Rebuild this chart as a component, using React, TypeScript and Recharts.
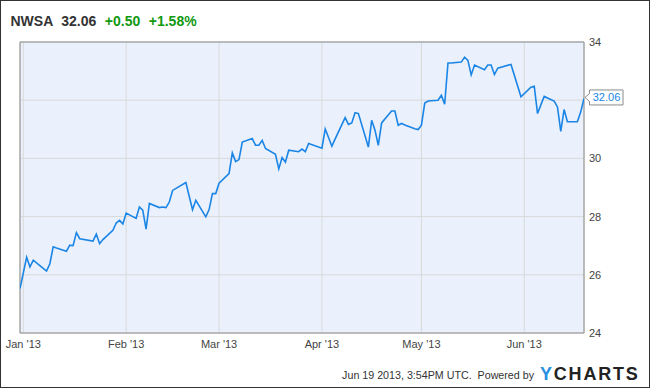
import React from "react";
import {
  LineChart,
  Line,
  XAxis,
  YAxis,
  CartesianGrid,
  ReferenceArea,
  ReferenceDot,
} from "recharts";

const dates: string[] = [
  "2012-12-31", "2013-01-02", "2013-01-03", "2013-01-04", "2013-01-07", "2013-01-08", "2013-01-09", "2013-01-10", "2013-01-11",
  "2013-01-14", "2013-01-15", "2013-01-16", "2013-01-17", "2013-01-18", "2013-01-22", "2013-01-23", "2013-01-24", "2013-01-25",
  "2013-01-28", "2013-01-29", "2013-01-30", "2013-01-31", "2013-02-01", "2013-02-04", "2013-02-05", "2013-02-06", "2013-02-07",
  "2013-02-08", "2013-02-11", "2013-02-12", "2013-02-13", "2013-02-14", "2013-02-15", "2013-02-19", "2013-02-20", "2013-02-21",
  "2013-02-22", "2013-02-25", "2013-02-26", "2013-02-27", "2013-02-28", "2013-03-01", "2013-03-04", "2013-03-05", "2013-03-06",
  "2013-03-07", "2013-03-08", "2013-03-11", "2013-03-12", "2013-03-13", "2013-03-14", "2013-03-15", "2013-03-18", "2013-03-19",
  "2013-03-20", "2013-03-21", "2013-03-22", "2013-03-25", "2013-03-26", "2013-03-27", "2013-03-28", "2013-04-01", "2013-04-02",
  "2013-04-03", "2013-04-04", "2013-04-05", "2013-04-08", "2013-04-09", "2013-04-10", "2013-04-11", "2013-04-12", "2013-04-15",
  "2013-04-16", "2013-04-17", "2013-04-18", "2013-04-19", "2013-04-22", "2013-04-23", "2013-04-24", "2013-04-25", "2013-04-26",
  "2013-04-29", "2013-04-30", "2013-05-01", "2013-05-02", "2013-05-03", "2013-05-06", "2013-05-07", "2013-05-08", "2013-05-09",
  "2013-05-10", "2013-05-13", "2013-05-14", "2013-05-15", "2013-05-16", "2013-05-17", "2013-05-20", "2013-05-21", "2013-05-22",
  "2013-05-23", "2013-05-24", "2013-05-28", "2013-05-29", "2013-05-30", "2013-05-31", "2013-06-03", "2013-06-04", "2013-06-05",
  "2013-06-06", "2013-06-07", "2013-06-10", "2013-06-11", "2013-06-12", "2013-06-13", "2013-06-14", "2013-06-17", "2013-06-18",
  "2013-06-19",
];

const prices: number[] = [
  25.53, 26.6, 26.27, 26.5, 26.22, 26.13, 26.38, 26.96, 26.92,
  26.81, 27.02, 27.0, 27.45, 27.24, 27.16, 27.4, 27.07, 27.21,
  27.53, 27.78, 27.87, 27.75, 28.12, 27.94, 28.33, 28.22, 27.57,
  28.45, 28.31, 28.33, 28.31, 28.5, 28.9, 29.17, 28.7, 28.24,
  28.56, 27.99, 28.24, 28.79, 28.79, 29.15, 29.48, 30.19, 29.89,
  29.96, 30.56, 30.68, 30.45, 30.45, 30.62, 30.34, 30.14, 29.64,
  30.03, 29.87, 30.28, 30.23, 30.32, 30.23, 30.51, 30.35, 31.01,
  30.72, 30.42, 30.67, 31.4, 31.17, 31.22, 31.57, 31.54, 30.39,
  31.31, 30.97, 30.45, 31.22, 31.63, 31.63, 31.14, 31.2, 31.15,
  31.02, 30.99, 31.14, 31.9, 31.97, 32.0, 32.17, 31.86, 33.28,
  33.28, 33.31, 33.48, 33.37, 32.87, 33.21, 33.05, 33.21, 33.21,
  32.88, 33.1, 33.23, 32.86, 32.49, 32.12, 32.45, 32.48, 31.54,
  31.84, 32.13, 31.97, 31.77, 30.93, 31.68, 31.26, 31.26, 31.59,
  32.06,
];

const monthStarts: string[] = ["2013-01-01", "2013-02-01", "2013-03-01", "2013-04-01", "2013-05-01", "2013-06-01"];
const monthLabels: string[] = ["Jan '13", "Feb '13", "Mar '13", "Apr '13", "May '13", "Jun '13"];
const yTicks: number[] = [24, 26, 28, 30, 32, 34];
// the 32 label is covered by the last-value callout in the reference
const yLabelsShown: number[] = [24, 26, 28, 30, 34];

const ticker = "NWSA";
const lastPriceText = "32.06";
const changeText = "+0.50";
const changePctText = "+1.58%";
const footerText = "Jun 19 2013, 3:54PM UTC.  Powered by";

const ORIGIN = Date.UTC(2013, 0, 1);
const toDay = (s: string) => {
  const [y, m, d] = s.split("-").map(Number);
  return Math.round((Date.UTC(y, m - 1, d) - ORIGIN) / 86400000);
};

const data = dates.map((d, i) => ({ day: toDay(d), price: prices[i] }));
const monthTicks = monthStarts.map(toDay);
const firstDay = data[0].day;
const lastDay = data[data.length - 1].day;
const lastPrice = prices[prices.length - 1];

const FONT = "'Liberation Sans', Arial, Helvetica, sans-serif";

const YTick = (props: any) => {
  const { x, y, payload } = props;
  if (!yLabelsShown.includes(payload.value)) return null;
  return (
    <text x={x} y={y} dy="0.355em" textAnchor="start" fontFamily={FONT} fontSize={11} fill="#444444">
      {payload.value}
    </text>
  );
};

const Callout = (props: any) => {
  const { cx, cy } = props;
  if (cx == null || cy == null) return null;
  const x = cx + 1;
  const y = cy - 1;
  const path = `M${x},${y} L${x + 4.5},${y - 4} L${x + 4.5},${y - 7.5} L${x + 38},${y - 7.5} L${x + 38},${y + 7.5} L${x + 4.5},${y + 7.5} L${x + 4.5},${y + 4} Z`;
  return (
    <g>
      <path d={path} fill="#ffffff" stroke="#8a8a8a" strokeWidth={1} />
      <text
        x={x + 21.5}
        y={y + 4}
        textAnchor="middle"
        fontFamily={FONT}
        fontSize={11}
        fill="#1a85e6"
      >
        {lastPriceText}
      </text>
    </g>
  );
};

export default function App() {
  return (
    <div style={{ position: "absolute", left: 0, top: 0, width: 650, height: 388, background: "#ffffff" }}>
      <LineChart
        width={650}
        height={388}
        data={data}
        margin={{ top: 42, right: 26, bottom: 25, left: 20 }}
      >
        <CartesianGrid stroke="#d9d9d9" fill="#eaf1fc" fillOpacity={1} />
        <XAxis
          dataKey="day"
          type="number"
          domain={[firstDay, lastDay]}
          ticks={monthTicks}
          tickFormatter={(v: number) => monthLabels[monthTicks.indexOf(v)] ?? ""}
          axisLine={false}
          tickLine={false}
          tickSize={0}
          tickMargin={7}
          height={30}
          allowDataOverflow
          tick={{ fontSize: 11, fill: "#444444", fontFamily: FONT }}
        />
        <YAxis
          orientation="right"
          domain={[24, 34]}
          ticks={yTicks}
          axisLine={false}
          tickLine={false}
          tickSize={0}
          tickMargin={5}
          width={40}
          allowDataOverflow
          tick={<YTick />}
        />
        <ReferenceArea
          x1={firstDay}
          x2={lastDay}
          y1={24}
          y2={34}
          fill="none"
          fillOpacity={0}
          stroke="#8c8c8c"
          strokeWidth={1}
          strokeOpacity={1}
        />
        <Line
          type="linear"
          dataKey="price"
          stroke="#1a85e6"
          strokeWidth={1.6}
          dot={false}
          activeDot={false}
          isAnimationActive={false}
        />
        <ReferenceDot x={lastDay} y={lastPrice} shape={Callout} />
      </LineChart>
      <svg
        width={650}
        height={388}
        style={{ position: "absolute", left: 0, top: 0, pointerEvents: "none" }}
      >
        <rect x={0.5} y={0.5} width={649} height={387} fill="none" stroke="#333333" strokeWidth={1} />
        <text x={10.5} y={26} fontFamily={FONT} fontSize={14} fontWeight="bold">
          <tspan fill="#333333">{ticker}</tspan>
          <tspan fill="#333333" dx={8}>{lastPriceText}</tspan>
          <tspan fill="#119911" dx={8.5}>{changeText}</tspan>
          <tspan fill="#119911" dx={8.5}>{changePctText}</tspan>
        </text>
        <text x={534} y={379} textAnchor="end" fontFamily={FONT} fontSize={10.7} fill="#333333" style={{ whiteSpace: "pre" }}>
          {footerText}
        </text>
        <text x={540} y={380} fontFamily={FONT} fontSize={18} fontWeight="bold" letterSpacing={1.8}>
          <tspan fill="#2a8fe0">Y</tspan>
          <tspan fill="#222222">CHARTS</tspan>
        </text>
      </svg>
    </div>
  );
}
